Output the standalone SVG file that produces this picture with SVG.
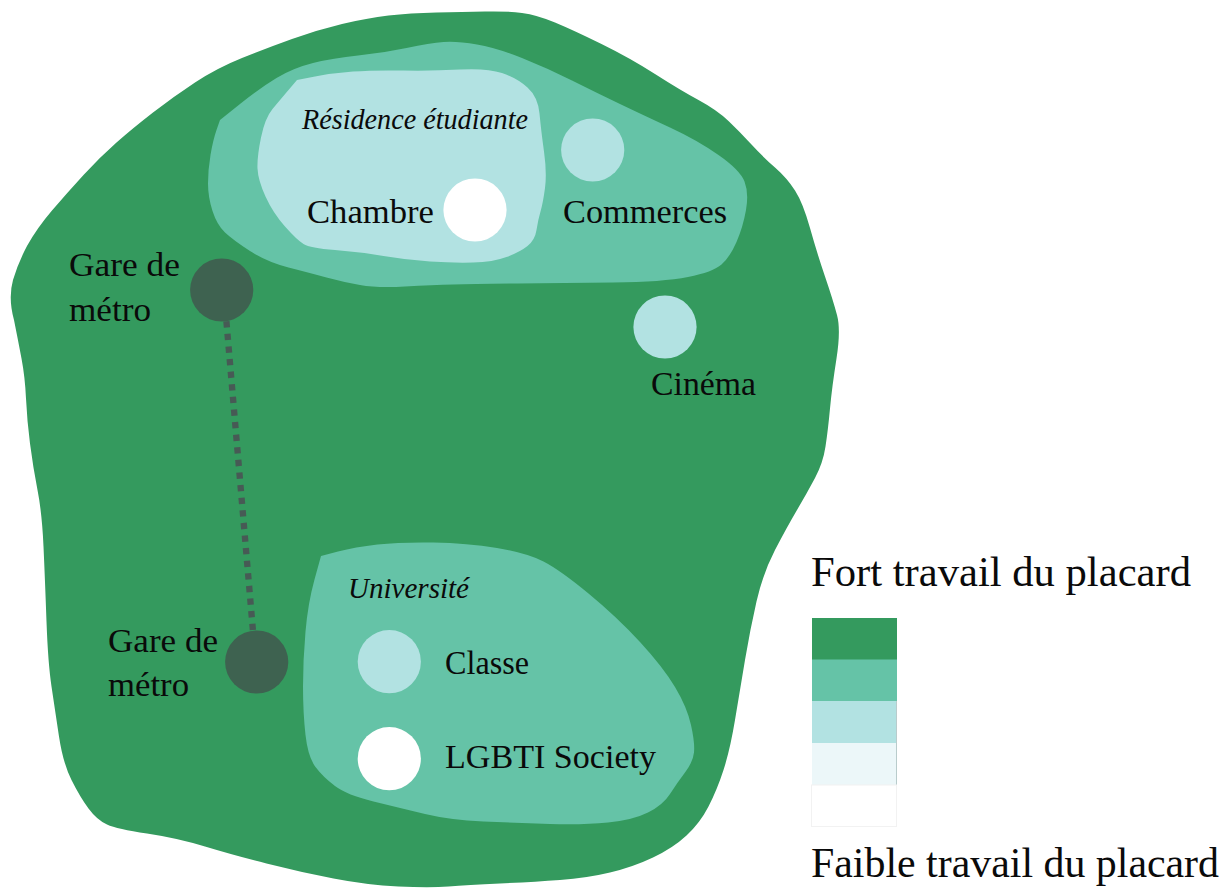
<svg xmlns="http://www.w3.org/2000/svg" width="1232" height="889" viewBox="0 0 1232 889">
<style>
text{font-family:"Liberation Serif","Times New Roman",serif;fill:#0a0a0a}
.l{font-size:34px}.i{font-size:29px;font-style:italic}.b{font-size:42px}
.c1{fill:#349a5e}.c2{fill:#65c3a7}.c3{fill:#b2e2e2}.w{fill:#fff}.m{fill:#3e6250}
</style>
<rect width="1232" height="889" fill="#fff"/>
<g id="zone-outer"><path class="c1" d="M13 280Q18 263 27 246Q37 228 52 210.5Q67 193 83.5 175Q100 157 116.5 142.5Q133 128 153 112.5Q173 97 195 82.5Q217 68 242 58Q267 48 292 39Q317 30 342 24Q367 18 388.5 15.5Q410 13 436.5 12.5Q463 12 485 11.5Q507 11 522 13Q537 15 555 22.5Q573 30 601.5 44Q630 58 655 74Q680 90 698.5 100Q717 110 728.5 121Q740 132 751.5 144.5Q763 157 775 167.5Q787 178 795 190.5Q803 203 810 228Q817 253 825 276.5Q833 300 837 315Q841 330 836.5 358.5Q832 387 830 408.5Q828 430 825.5 446.5Q823 463 815 478Q807 493 797 510Q787 527 775 550Q763 573 756.5 601.5Q750 630 745 660Q740 690 735 720Q730 750 723.5 770Q717 790 708.5 806.5Q700 823 686.5 835.5Q673 848 653 857.5Q633 867 610 872.5Q587 878 560 880Q533 882 500 883.5Q467 885 448.5 886.5Q430 888 398.5 886.5Q367 885 333.5 878.5Q300 872 266.5 863.5Q233 855 205 846.5Q177 838 147 833.5Q117 829 107 824.5Q97 820 88.5 808.5Q80 797 71.5 780Q63 763 59 736.5Q55 710 51.5 686.5Q48 663 46.5 621.5Q45 580 43.5 546.5Q42 513 37.5 490Q33 467 30 443.5Q27 420 26 398.5Q25 377 21.5 358.5Q18 340 14 320Q8 298 13 280Z"/></g>
<g id="zone-residence"><path class="c2" d="M220 120L240 104Q260 88 276.5 78Q293 68 313 63Q333 58 358 55.5Q383 53 406.5 48Q430 43 443.5 42Q457 41 477 44.5Q497 48 522 58Q547 68 572 80.5Q597 93 620 104Q643 115 670 127.5Q697 140 718.5 155Q740 170 744.5 181.5Q749 193 746 210Q743 227 736.5 242Q730 257 721.5 264.5Q713 272 688 277Q663 282 613 282.5Q563 283 518 283.5Q473 284 453 284.5Q433 285 405 286.5Q377 288 360 285Q343 282 326.5 277.5Q310 273 288.5 267.5Q267 262 250 251Q233 240 225 232.5Q217 225 212.5 211Q208 197 208 183.5Q208 170 210.5 155Q213 140 216.5 130L220 120Z"/></g>
<g id="zone-residence-inner"><path class="c3" d="M297 80L315 76.5Q333 73 353 71.5Q373 70 403 70.5Q433 71 460 69.5Q487 68 502 73Q517 78 527.5 87.5Q538 97 539.5 113.5Q541 130 544 151.5Q547 173 545 188Q543 203 540.5 211.5Q538 220 536.5 230Q535 240 527.5 246Q520 252 506.5 257Q493 262 473 262.5Q453 263 430 261.5Q407 260 383.5 256Q360 252 335 250Q310 248 303.5 244Q297 240 285 226.5Q273 213 265.5 196.5Q258 180 257.5 168.5Q257 157 261 137.5Q265 118 272.5 109Q280 100 288.5 90L297 80Z"/></g>
<g id="zone-universite"><path class="c2" d="M321 556L314.5 579.5Q308 603 305.5 631.5Q303 660 303 686.5Q303 713 305.5 735Q308 757 315.5 767Q323 777 335 786Q347 795 373.5 801.5Q400 808 425 814Q450 820 483.5 821.5Q517 823 550 824Q583 825 608 822.5Q633 820 648 812.5Q663 805 670 794Q677 783 685 772.5Q693 762 694 752.5Q695 743 691 725Q687 707 675 687Q663 667 640 642Q617 617 588.5 593.5Q560 570 543.5 561.5Q527 553 497 548Q467 543 433.5 542.5Q400 542 377.5 544.5Q355 547 338 551.5L321 556Z"/></g>
<g id="node-residence"><text class="i" x="302" y="129" textLength="226" lengthAdjust="spacingAndGlyphs">Résidence étudiante</text></g>
<g id="node-chambre"><circle class="w" cx="475" cy="210" r="31.6"/><text class="l" x="307" y="222.5" textLength="127" lengthAdjust="spacingAndGlyphs">Chambre</text></g>
<g id="node-commerces"><circle class="c3" cx="592.7" cy="150" r="31.6"/><text class="l" x="563" y="222.5" textLength="164" lengthAdjust="spacingAndGlyphs">Commerces</text></g>
<g id="node-cinema"><circle class="c3" cx="665" cy="327" r="31.6"/><text class="l" x="651" y="395" textLength="105" lengthAdjust="spacingAndGlyphs">Cinéma</text></g>
<g id="connectors"><path d="M226.4 321.2L252.9 630" fill="none" stroke="#475a55" stroke-width="6.3" stroke-dasharray="6.3 6.35"/></g>
<g id="node-metro-1"><circle class="m" cx="221.7" cy="290" r="31.6"/><text class="l" x="69" y="276" textLength="111" lengthAdjust="spacingAndGlyphs">Gare de</text><text class="l" x="69" y="321" textLength="82" lengthAdjust="spacingAndGlyphs">métro</text></g>
<g id="node-metro-2"><circle class="m" cx="256.7" cy="662" r="31.6"/><text class="l" x="108" y="651.5" textLength="110" lengthAdjust="spacingAndGlyphs">Gare de</text><text class="l" x="108" y="696" textLength="81" lengthAdjust="spacingAndGlyphs">métro</text></g>
<g id="node-universite"><text class="i" x="348" y="598" textLength="121" lengthAdjust="spacingAndGlyphs">Université</text></g>
<g id="node-classe"><circle class="c3" cx="389.3" cy="661.7" r="31.6"/><text class="l" x="445" y="674" textLength="84" lengthAdjust="spacingAndGlyphs">Classe</text></g>
<g id="node-lgbti"><circle class="w" cx="389.3" cy="758.7" r="31.6"/><text class="l" x="445" y="767.5" textLength="211" lengthAdjust="spacingAndGlyphs">LGBTI Society</text></g>
<g id="legend">
<text class="b" x="811" y="586" textLength="380" lengthAdjust="spacingAndGlyphs">Fort travail du placard</text>
<rect class="c1" x="812" y="618" width="85" height="42"/>
<rect class="c2" x="812" y="659.5" width="85" height="42"/>
<rect class="c3" x="812" y="701" width="85" height="42"/>
<rect x="812" y="743" width="85" height="42" fill="#ecf7f9"/>
<path d="M896.5 701V785" stroke="#b9cccc" fill="none"/>
<rect x="811.5" y="785" width="85" height="41.5" fill="#fff" stroke="#f2f2f2"/>
<text class="b" x="811" y="877" textLength="408" lengthAdjust="spacingAndGlyphs">Faible travail du placard</text>
</g>
</svg>
